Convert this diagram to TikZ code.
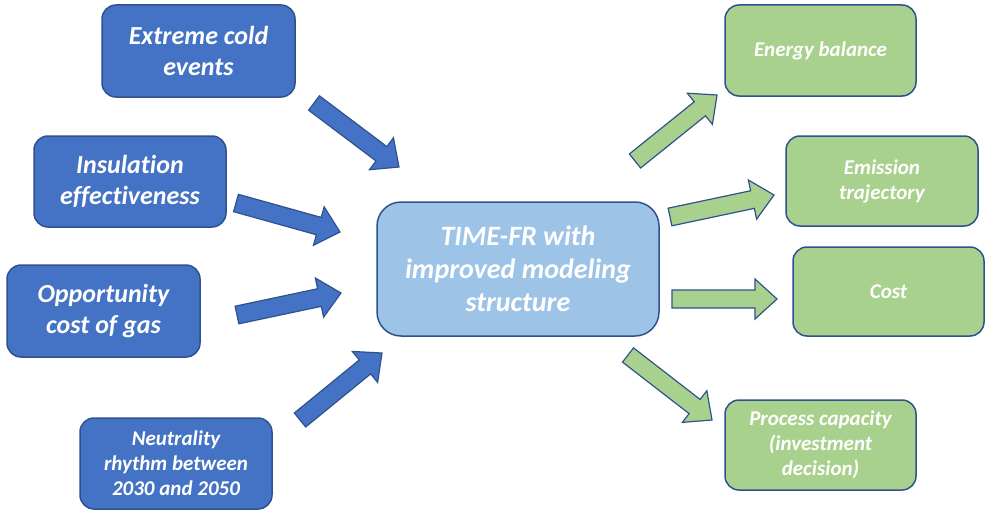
\documentclass[tikz,border=0pt]{standalone}
\usepackage{fontspec}
\setmainfont{Carlito}[Ligatures=NoCommon]
\usetikzlibrary{calc}
\definecolor{cIn}{RGB}{68,114,196}
\definecolor{cLine}{RGB}{47,82,143}
\definecolor{cCore}{RGB}{157,195,230}
\definecolor{cOut}{RGB}{169,209,142}
\tikzset{
  box/.style={draw=cLine,line width=1.5pt,rounded corners=14pt,text=white,align=center,inner sep=0pt},
  inbox/.style={box,fill=cIn,font=\fontsize{26}{31}\selectfont\bfseries\itshape},
  smallin/.style={box,fill=cIn,font=\fontsize{21}{25}\selectfont\bfseries\itshape},
  corebox/.style={box,fill=cCore,rounded corners=24pt,font=\fontsize{28}{33}\selectfont\bfseries\itshape},
  outbox/.style={box,fill=cOut,font=\fontsize{21}{25}\selectfont\bfseries\itshape},
  inarrow/.style={draw=cLine,line width=1.2pt,fill=cIn,line join=miter},
  outarrow/.style={draw=cLine,line width=1.2pt,fill=cOut,line join=miter}
}
% block arrow: style, tail, tip
\newcommand\blockarrow[3]{%
  \coordinate (ah) at ($(#3)!22pt!(#2)$);
  \draw[#1] ($(#2)!9pt!90:(#3)$) -- ($(ah)!9pt!90:(#3)$) -- ($(ah)!20pt!90:(#3)$) -- (#3)
    -- ($(ah)!20pt!-90:(#3)$) -- ($(ah)!9pt!-90:(#3)$) -- ($(#2)!9pt!-90:(#3)$) -- cycle;}

\begin{document}
\begin{tikzpicture}[x=1pt,y=-1pt]
\useasboundingbox (0,0) rectangle (985,511);

\node[inbox,minimum width=193pt,minimum height=92pt] (cold) at (198.5,51) {Extreme cold\\events};
\node[inbox,minimum width=192pt,minimum height=91pt] (insul) at (130,181.5) {Insulation\\effectiveness};
\node[inbox,minimum width=193pt,minimum height=92pt] (gas) at (103.5,311) {Opportunity\\cost of gas};
\node[smallin,minimum width=192pt,minimum height=91pt] (rhythm) at (176,463.5) {Neutrality\\rhythm between\\2030 and 2050};

\node[corebox,minimum width=282pt,minimum height=134pt] (core) at (518,269) {TIME-FR with\\improved modeling\\structure};

\node[outbox,minimum width=191pt,minimum height=91pt] (energy) at (820.5,50.5) {Energy balance};
\node[outbox,minimum width=192pt,minimum height=90pt] (emis) at (882,181) {Emission\\trajectory};
\node[outbox,minimum width=191pt,minimum height=89pt] (cost) at (888.5,291.5) {Cost};
\node[outbox,minimum width=191pt,minimum height=90pt] (capac) at (820.5,445) {Process capacity\\(investment\\decision)};

% arrow ends
\coordinate (cold-o) at (314,103);   \coordinate (core-i1) at (399,167);
\coordinate (insul-o) at (236,203);  \coordinate (core-i2) at (340,232);
\coordinate (gas-o) at (237,315);    \coordinate (core-i3) at (341,293);
\coordinate (rhythm-o) at (300,420); \coordinate (core-i4) at (382,353);
\coordinate (core-o1) at (635,161);  \coordinate (energy-i) at (717,95);
\coordinate (core-o2) at (670,217);  \coordinate (emis-i) at (774,195);
\coordinate (core-o3) at (672,299);  \coordinate (cost-i) at (777,299);
\coordinate (core-o4) at (628,355);  \coordinate (capac-i) at (712,420);

\blockarrow{inarrow}{cold-o}{core-i1}
\blockarrow{inarrow}{insul-o}{core-i2}
\blockarrow{inarrow}{gas-o}{core-i3}
\blockarrow{inarrow}{rhythm-o}{core-i4}
\blockarrow{outarrow}{core-o1}{energy-i}
\blockarrow{outarrow}{core-o2}{emis-i}
\blockarrow{outarrow}{core-o3}{cost-i}
\blockarrow{outarrow}{core-o4}{capac-i}
\end{tikzpicture}
\end{document}
